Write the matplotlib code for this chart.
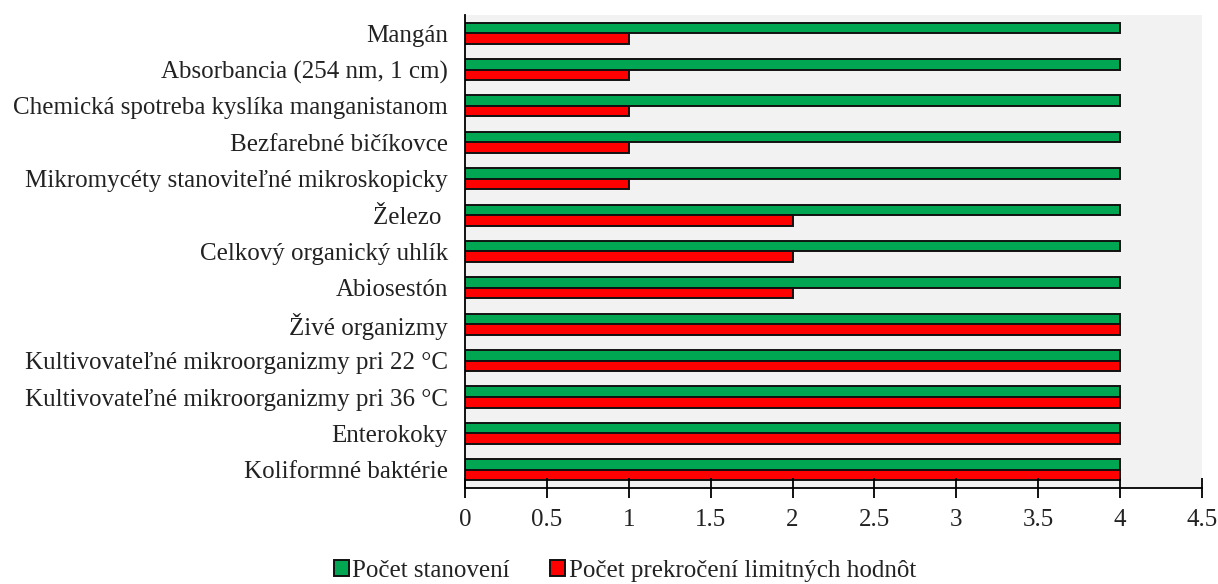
import numpy as np
import matplotlib.pyplot as plt

plt.rcParams['font.family'] = ['Liberation Serif', 'DejaVu Serif']

categories = [
    "Koliformné baktérie",
    "Enterokoky",
    "Kultivovateľné mikroorganizmy pri 36 °C",
    "Kultivovateľné mikroorganizmy pri 22 °C",
    "Živé organizmy",
    "Abiosestón",
    "Celkový organický uhlík",
    "Železo ",
    "Mikromycéty stanoviteľné mikroskopicky",
    "Bezfarebné bičíkovce",
    "Chemická spotreba kyslíka manganistanom",
    "Absorbancia (254 nm, 1 cm)",
    "Mangán",
]
pocet_stanoveni = [4, 4, 4, 4, 4, 4, 4, 4, 4, 4, 4, 4, 4]
pocet_prekroceni = [4, 4, 4, 4, 4, 2, 2, 2, 1, 1, 1, 1, 1]
xticks = [0, 0.5, 1, 1.5, 2, 2.5, 3, 3.5, 4, 4.5]
xtick_labels = ["0", "0.5", "1", "1.5", "2", "2.5", "3", "3.5", "4", "4.5"]

fig = plt.figure(figsize=(12.18, 5.84), dpi=100)
ax = fig.add_axes([0.3818, 0.1644, 0.605, 0.81])
ax.set_facecolor('#f2f2f2')

y = np.arange(len(categories))
h = 0.29
ax.barh(y + h / 2, pocet_stanoveni, height=h, color='#00a651',
        edgecolor='#111111', linewidth=1.4, label='Počet stanovení')
ax.barh(y - h / 2, pocet_prekroceni, height=h, color='#ff0000',
        edgecolor='#111111', linewidth=1.4, label='Počet prekročení limitných hodnôt')

fs = 18
ax.set_xlim(0, 4.5)
ax.set_ylim(-0.5, len(categories) - 0.5)
ax.set_xticks(xticks)
ax.set_xticklabels(xtick_labels, fontsize=fs)
ax.set_yticks(y)
ax.set_yticklabels(categories, fontsize=fs, color='#222222')
ax.tick_params(axis='x', direction='inout', length=14, width=1.3, pad=8,
               labelcolor='#222222')
ax.tick_params(axis='y', length=0, pad=12.5)

for side in ['top', 'right']:
    ax.spines[side].set_visible(False)
ax.spines['left'].set_linewidth(1.3)
ax.spines['bottom'].set_linewidth(1.3)

leg = fig.legend(loc='lower center', bbox_to_anchor=(0.513, -0.035), ncol=2,
                 frameon=False, fontsize=fs, handlelength=0.6, handleheight=0.6,
                 handletextpad=0.15, columnspacing=1.6)
for t in leg.get_texts():
    t.set_color('#222222')

fig.savefig('out.png', dpi=100)
